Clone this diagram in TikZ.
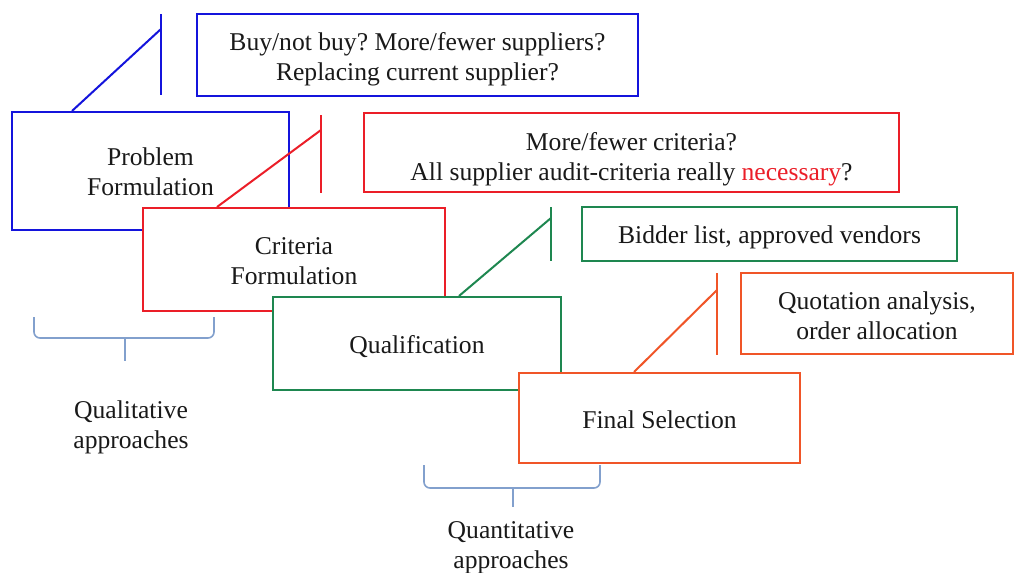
\documentclass[tikz,border=0pt]{standalone}
\usepackage{fontspec}
\setmainfont{Liberation Serif}
\frenchspacing
\definecolor{cblue}{RGB}{20,20,220}
\definecolor{cred}{RGB}{235,30,40}
\definecolor{cgreen}{RGB}{30,135,80}
\definecolor{corange}{RGB}{240,85,40}
\definecolor{cbrace}{RGB}{130,160,205}
\definecolor{ctext}{RGB}{25,25,25}
\begin{document}
\begin{tikzpicture}[x=0.5pt,y=-0.5pt,
  box/.style={draw,fill=white,line width=1pt,inner sep=0pt},
  callline/.style={line width=1pt},
  bracestyle/.style={draw=cbrace,line width=0.8pt,rounded corners=3pt},
  lbl/.style={align=center,text=ctext,inner sep=0pt,font=\fontsize{12.8pt}{15pt}\selectfont}]
\fill[white] (0,0) rectangle (1014,573);
\useasboundingbox (0,0) rectangle (1014,573);

% callout boxes
\node[box,draw=cblue,minimum width=220.5pt,minimum height=41pt] (c1) at (417.5,55) {};
\node[lbl] (c1t) at ([yshift=-2.3pt]c1.center) {Buy/not buy? More/fewer suppliers?\\Replacing current supplier?};
\node[box,draw=cred,minimum width=267.5pt,minimum height=39.5pt] (c2) at (631.5,152.5) {};
\node[lbl] (c2t) at ([yshift=-3.4pt]c2.center) {More/fewer criteria?\\All supplier audit-criteria really \textcolor{cred}{necessary}?};
\node[box,draw=cgreen,minimum width=187.5pt,minimum height=27pt] (c3) at (769.5,234) {};
\node[lbl] (c3t) at ([yshift=-1.8pt]c3.center) {Bidder list, approved vendors};
\node[box,draw=corange,minimum width=136pt,minimum height=40.5pt] (c4) at (877,313.5) {};
\node[lbl] (c4t) at ([yshift=-1.3pt]c4.center) {Quotation analysis,\\order allocation};

% step 1
\node[box,draw=cblue,minimum width=138.5pt,minimum height=59pt] (pf) at (150.5,171) {};
\node[lbl] (pft) at ([yshift=-0.6pt]pf.center) {Problem\\Formulation};
\coordinate (t1a) at (161,14); \coordinate (t1b) at (161,95); \coordinate (t1) at (161,29);
\draw[callline,cblue] ([xshift=30.5pt]pf.north west) -- (t1);
\draw[callline,cblue] (t1a) -- (t1b);

% step 2
\node[box,draw=cred,minimum width=151pt,minimum height=51.5pt] (cf) at (294,259.5) {};
\node[lbl] (cft) at ([yshift=-0.8pt]cf.center) {Criteria\\Formulation};
\coordinate (t2a) at (321,115); \coordinate (t2b) at (321,193); \coordinate (t2) at (321,130);
\draw[callline,cred] ([xshift=37.5pt]cf.north west) -- (t2);
\draw[callline,cred] (t2a) -- (t2b);

% step 3
\node[box,draw=cgreen,minimum width=144pt,minimum height=46.5pt] (qu) at (417,343.5) {};
\node[lbl] (qut) at ([yshift=-1.5pt]qu.center) {Qualification};
\coordinate (t3a) at (551,207); \coordinate (t3b) at (551,261); \coordinate (t3) at (551,218);
\draw[callline,cgreen] ([xshift=93.5pt]qu.north west) -- (t3);
\draw[callline,cgreen] (t3a) -- (t3b);

% step 4
\node[box,draw=corange,minimum width=140.5pt,minimum height=45pt] (fs) at (659.5,418) {};
\node[lbl] (fst) at ([yshift=-1pt]fs.center) {Final Selection};
\coordinate (t4a) at (717,273); \coordinate (t4b) at (717,355); \coordinate (t4) at (717,290);
\draw[callline,corange] ([xshift=58pt]fs.north west) -- (t4);
\draw[callline,corange] (t4a) -- (t4b);

% braces
\draw[bracestyle] (34,317) -- (34,338) -- (214,338) -- (214,317);
\draw[bracestyle] (125,338) -- (125,361);
\node[lbl] (ql) at (131,427.5) {Qualitative\\approaches};

\draw[bracestyle] (424,465) -- (424,488) -- (600,488) -- (600,465);
\draw[bracestyle] (513,488) -- (513,507);
\node[lbl] (qn) at (511,548) {Quantitative\\approaches};
\end{tikzpicture}
\end{document}
